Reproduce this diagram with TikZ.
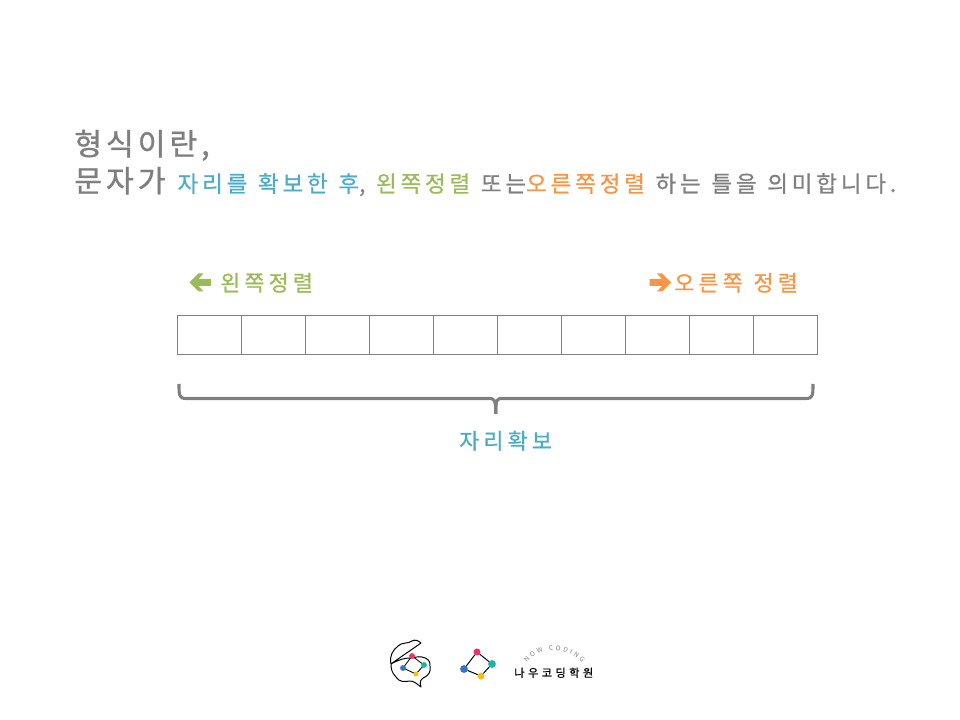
\documentclass[tikz,border=0pt]{standalone}
\usepackage{fontspec}
\setmainfont{Noto Sans CJK KR}
\usepackage{tikz}
\usetikzlibrary{positioning}
\usetikzlibrary{decorations.text}
\definecolor{txtgray}{HTML}{7F7F7F}
\definecolor{blue1}{HTML}{4BACC6}
\definecolor{green1}{HTML}{9BBB59}
\definecolor{orange1}{HTML}{F79646}
\definecolor{dotred}{HTML}{E8336D}
\definecolor{dotteal}{HTML}{1FB5A3}
\definecolor{dotblue}{HTML}{3B74BE}
\definecolor{dotyellow}{HTML}{F7BB16}
\newfontfamily\spacedbig[LetterSpace=13,FakeBold=1]{Noto Sans CJK KR}
\newfontfamily\spacedsmall[LetterSpace=17,FakeBold=0.8,WordSpace=1.2]{Noto Sans CJK KR}
\newfontfamily\spacedlabel[LetterSpace=19,FakeBold=0.8,WordSpace=1.2]{Noto Sans CJK KR}
\newfontfamily\spacedlogo[LetterSpace=30,FakeBold=0.5]{Noto Sans CJK KR}
\tikzset{
    bigtext/.style={anchor=base west, inner sep=0pt, text=txtgray, font=\spacedbig\fontsize{21.5}{26}\selectfont},
    linetext/.style={anchor=base west, inner sep=0pt, text=txtgray, font=\spacedsmall\fontsize{16}{20}\selectfont},
    labeltext/.style={anchor=base west, inner sep=0pt, font=\spacedlabel\fontsize{15.5}{20}\selectfont},
    celltext/.style={draw=gray, line width=0.5pt, minimum width=64*0.711pt, minimum height=39*0.711pt, inner sep=0pt, outer sep=0pt},
    dot/.style={circle, inner sep=0pt, outer sep=0pt},
}
\begin{document}
\begin{tikzpicture}[x=0.025cm, y=-0.025cm]
    \useasboundingbox (0,0) rectangle (960,720);

    % Heading
    \node[bigtext] (title) at (74,155) {형식이란,};
    \node[linetext] (desc) at (74,192) {{\spacedbig\fontsize{21.5}{26}\selectfont 문자가}\hspace{1pt} \textcolor{blue1}{자리를 확보한 후}, \textcolor{green1}{왼쪽정렬} 또는\textcolor{orange1}{오른쪽정렬} 하는 틀을 의미합니다.};

    % Labels over the cells
    \node[labeltext, text=green1] (lefttext) at (220,291) {왼쪽정렬};
    \node[labeltext, text=orange1] (righttext) at (674,291) {오른쪽 정렬};
    \begin{scope}[shift={(189.5,282.5)}]
        \fill[green1] (0,0) -- (9,-9) -- (14,-9) -- (9,-3.5) -- (21.5,-3.5) -- (21.5,3.5) -- (9,3.5) -- (14,9) -- (9,9) -- cycle;
    \end{scope}
    \begin{scope}[shift={(671,282.5)}, xscale=-1]
        \fill[orange1] (0,0) -- (9,-9) -- (14,-9) -- (9,-3.5) -- (21.5,-3.5) -- (21.5,3.5) -- (9,3.5) -- (14,9) -- (9,9) -- cycle;
    \end{scope}

    % Cells
    \foreach \i in {0,...,9}
        \node[celltext] (cell\i) at (209.5+64*\i,334.5) {};

    % Brace
    \draw[txtgray, line width=2.2pt] (179,384) .. controls (179,395) and (179,398.5) .. (186,398.5) -- (489,398.5) .. controls (494,398.5) and (495.8,399) .. (495.8,414);
    \draw[txtgray, line width=2.2pt] (813,384) .. controls (813,395) and (813,398.5) .. (806,398.5) -- (502,398.5) .. controls (497,398.5) and (495.8,399) .. (495.8,414);
    \node[labeltext, text=blue1] (bracetext) at (459,449) {자리확보};

    % Logo, brain
    \draw[black, line width=0.7pt, line join=round] (391,664) .. controls (389,656) and (393,650) .. (398,646) .. controls (402,642) and (408,644) .. (412,641) .. controls (415,639) and (419,641) .. (421,643) .. controls (414,648) and (402,656) .. (391,664) .. controls (398,660) and (404,658) .. (410,658) .. controls (414,658) and (418,656) .. (422,657) .. controls (427,658) and (431,661) .. (430,666) .. controls (431,671) and (429,675) .. (425,677) .. controls (421,679) and (419,681) .. (421,687) .. controls (417,684) and (414,681) .. (410,681) .. controls (404,682) and (399,682) .. (396,677) .. controls (392,673) and (391,669) .. (391,664);
    \coordinate (b1) at (412,656);
    \coordinate (b2) at (424,665);
    \coordinate (b3) at (416,674);
    \coordinate (b4) at (403,668);
    \draw[black, line width=0.6pt] (b1) -- (b2) -- (b3) -- (b4) -- cycle;
    \node[dot, fill=dotred, minimum size=4.2pt] (bd1) at (b1) {};
    \node[dot, fill=dotteal, minimum size=4.2pt] (bd2) at (b2) {};
    \node[dot, fill=dotyellow, minimum size=3.6pt] (bd3) at (b3) {};
    \node[dot, fill=dotblue, minimum size=4.2pt] (bd4) at (b4) {};

    % Logo, mark
    \node[dot, fill=dotred, minimum size=5pt] (m1) at (477,652) {};
    \node[dot, fill=dotteal, minimum size=5.6pt] (m2) at (492,664) {};
    \node[dot, fill=dotyellow, minimum size=5pt] (m3) at (481,676) {};
    \node[dot, fill=dotblue, minimum size=5.6pt] (m4) at (464,669) {};
    \draw[black, line width=0.7pt] (m1) -- (m2) -- (m3) -- (m4) -- (m1);

    % Logo, name
    \node[anchor=base west, inner sep=0pt, text=black, font=\spacedlogo\fontsize{8}{10}\selectfont] (logoname) at (514,677) {나우코딩학원};
    \path[decorate, decoration={text along path, text align=fit to path, text={|\fontsize{4.6}{5}\selectfont\color{gray}|NOW CODING}}] (527,663) .. controls (540,646) and (566,646) .. (582,663);
\end{tikzpicture}
\end{document}
